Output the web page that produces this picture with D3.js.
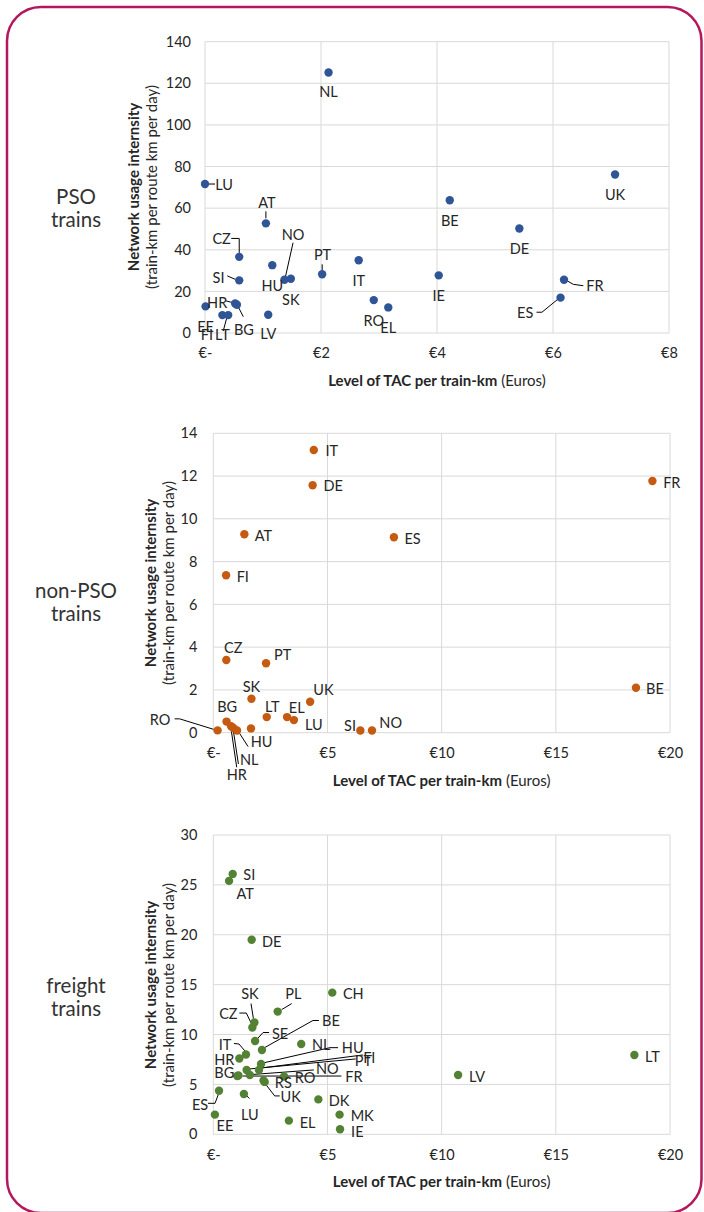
<!DOCTYPE html>
<html><head><meta charset="utf-8">
<script src="https://cdn.jsdelivr.net/npm/d3@7"></script>
<style>
html,body{margin:0;padding:0;background:#fff;}
svg{display:block;font-family:Lato,"Liberation Sans",sans-serif;}
</style></head>
<body><svg id="c" width="704" height="1212"></svg>
<script>
// ---------------- DATA ----------------
// PSO trains
const psoCountries = ["NL","LU","AT","CZ","HU","NO","SK","SI","PT","IT","RO","EL","EE","FI","LT","HR","BG","LV","BE","DE","UK","IE","FR","ES"];
const psoTAC       = [2.13,0.00,1.05,0.59,1.16,1.37,1.48,0.59,2.02,2.65,2.91,3.16,0.01,0.30,0.40,0.52,0.55,1.09,4.22,5.42,7.07,4.03,6.19,6.13];
const psoIntensity = [125.2,71.6,52.7,36.6,32.6,25.6,26.1,25.3,28.2,35.0,15.8,12.3,12.8,8.6,8.6,14.2,13.6,8.8,63.8,50.2,76.2,27.7,25.6,17.0];
const psoXTicks = [0,2,4,6,8];
const psoXTickLabels = ["€-","€2","€4","€6","€8"];
const psoYTicks = [0,20,40,60,80,100,120,140];

// non-PSO trains
const nonPsoCountries = ["IT","DE","AT","ES","FI","CZ","PT","SK","UK","LT","EL","LU","BG","RO","HR","NL","HU","","SI","NO","FR","BE"];
const nonPsoTAC       = [4.40,4.35,1.36,7.91,0.56,0.57,2.31,1.67,4.24,2.34,3.23,3.53,0.58,0.19,0.78,0.88,1.04,1.65,6.44,6.95,19.23,18.51];
const nonPsoIntensity = [13.22,11.57,9.28,9.14,7.36,3.40,3.25,1.59,1.45,0.73,0.73,0.59,0.52,0.11,0.30,0.22,0.10,0.20,0.10,0.10,11.77,2.10];
const nonPsoXTicks = [0,5,10,15,20];
const nonPsoXTickLabels = ["€-","€5","€10","€15","€20"];
const nonPsoYTicks = [0,2,4,6,8,10,12,14];

// freight trains
const freightCountries = ["SI","AT","DE","CH","PL","SK","CZ","SE","BE","NL","HU","FI","PT","NO","FR","BG","RO","RS","UK","IT","HR","ES","EE","LU","EL","DK","MK","IE","LV","LT"];
const freightTAC       = [0.85,0.69,1.68,5.21,2.82,1.80,1.71,1.83,2.13,3.85,2.09,2.00,1.46,1.60,1.10,1.05,3.10,2.20,2.25,1.43,1.14,0.25,0.07,1.34,3.31,4.60,5.53,5.55,10.72,18.44];
const freightIntensity = [26.1,25.4,19.5,14.2,12.3,11.2,10.7,9.35,8.45,9.05,7.05,6.45,6.45,5.95,5.90,5.85,5.80,5.40,5.25,8.0,7.6,4.37,1.97,4.04,1.37,3.5,1.97,0.5,5.94,7.95];
const freightXTicks = [0,5,10,15,20];
const freightXTickLabels = ["€-","€5","€10","€15","€20"];
const freightYTicks = [0,5,10,15,20,25,30];

// ---------------- LAYOUT (label placement, px relative to the point) ----------------
const psoLabelPos = {
  NL:{d:[0,19.5]}, LU:{d:[19,0],l:[[4,0],[10,0]]}, AT:{d:[1,-21],l:[[0,-5],[0,-12]]},
  CZ:{d:[-17.6,-18.4],l:[[-8,-18.4],[0,-18.4],[0,-4]]}, HU:{d:[0,20]},
  NO:{d:[8.6,-45.7],l:[[8.6,-37],[1,-3]]}, SK:{d:[0,20.6]},
  SI:{d:[-20.7,-3],l:[[-12,-4.5],[-4,-1]]}, PT:{d:[0.4,-20],l:[[0,-4],[0,-10]]},
  IT:{d:[0,20]}, RO:{d:[0,20]}, EL:{d:[0,20]}, EE:{d:[0,20]},
  FI:{d:[-15.4,19.5]}, LT:{d:[-5.8,19.5],l:[[-5,16],[-1.5,3]]},
  HR:{d:[-18,-1],l:[[-9,-2.5],[-3,-1]]}, BG:{d:[7,24.6],l:[[6.4,12],[1,1.5]]},
  LV:{d:[0,19]}, BE:{d:[0,20]}, DE:{d:[0,20]}, UK:{d:[0,20]}, IE:{d:[0,20]},
  FR:{d:[31,6],l:[[2,0.5],[9.3,4.6],[19.3,6]]},
  ES:{d:[-35.3,14.6],l:[[-24,14.6],[-18.6,14.6],[-2,1]]}
};
const nonPsoLabelPos = {
  IT:{d:[18,0.7]}, DE:{d:[20.6,0.7]}, AT:{d:[19,1.7]}, ES:{d:[18.7,1]}, FI:{d:[16.7,0.7]},
  CZ:{d:[7,-12.3]}, PT:{d:[16.7,-9]}, SK:{d:[0,-12]}, UK:{d:[13.3,-12.4]},
  LT:{d:[5.6,-11]}, EL:{d:[9.7,-9.7]}, LU:{d:[20,4.3]}, BG:{d:[0.6,-15]},
  RO:{d:[-57.6,-11],l:[[-43,-11.5],[-38,-11.5],[-4,-1]]},
  HR:{d:[5.6,48.7],l:[[5.6,41],[0,3]]},
  NL:{d:[15.9,32],l:[[5,36],[0,3]]},
  HU:{d:[24.6,11.3],l:[[11,16],[2,2]]},
  SI:{d:[-10.3,-4.7]}, NO:{d:[18.7,-8]}, FR:{d:[19.4,1.3]}, BE:{d:[19,1]}
};
const freightLabelPos = {
  SI:{d:[16.6,0.7]}, AT:{d:[16,13]}, DE:{d:[20,1.7]}, CH:{d:[21,1]},
  PL:{d:[15.6,-18.3],l:[[14,-8],[4,-2]]},
  SK:{d:[-4.4,-29.2],l:[[-3.4,-19],[-1,-4]]},
  CZ:{d:[-24,-14],l:[[-13,-14.5],[-6,-14.5],[-1,-4]]},
  SE:{d:[25,-7.7],l:[[14,-8.5],[8,-8.5],[2,-2]]},
  BE:{d:[69,-29.3],l:[[57,-29.5],[51,-29.5],[2,-2]]},
  NL:{d:[20,0]},
  HU:{d:[91.7,-16.3],l:[[77,-16.3],[69,-16.3],[2,-1]]},
  FI:{d:[110.3,-12.7],l:[[104,-15],[3,-2]]},
  PT:{d:[116.7,-9],l:[[109,-11],[3,-1]]},
  NO:{d:[77.5,-6],l:[[64,-5],[3,-0.5]]},
  FR:{d:[115.6,0.6],l:[[103,0.6],[4,0.6]]},
  BG:{d:[-13,-3.2]}, RO:{d:[21,1]}, RS:{d:[19.8,2]},
  UK:{d:[26,14.8],l:[[15,14],[10,14],[1.5,3]]},
  IT:{d:[-21,-10],l:[[-12,-11],[-7,-10.5],[-1,-3.5]]},
  HR:{d:[-15,1.5]},
  ES:{d:[-19,13.6],l:[[-11,12.6],[-4,12.6],[0,2]]},
  EE:{d:[10,11]}, LU:{d:[6,21],l:[[2,1],[5.5,4.5]]},
  EL:{d:[18.7,1.6]}, DK:{d:[20.7,1.4]}, MK:{d:[22.6,0.6]}, IE:{d:[17.3,2.4]},
  LV:{d:[19,1]}, LT:{d:[18,1.3]}
};

// ---------------- DRAWING ----------------
const svg = d3.select("#c");
const TEXT = "#262626";
const GRID = "#d9d9d9";

svg.append("rect").attr("x",7).attr("y",7).attr("width",694.5).attr("height",1206)
  .attr("rx",34).attr("ry",34).attr("fill","none").attr("stroke","#B5175F").attr("stroke-width",2.5);

function panel(o){
  const x = d3.scaleLinear().domain(o.xDomain).range([o.left,o.right]);
  const y = d3.scaleLinear().domain(o.yDomain).range([o.bottom,o.top]);
  const g = svg.append("g");

  // grid
  g.append("g").selectAll("line.h").data(o.yTicks).join("line")
    .attr("x1",o.left).attr("x2",o.right).attr("y1",d=>y(d)).attr("y2",d=>y(d))
    .attr("stroke",GRID).attr("stroke-width",1);
  g.append("g").selectAll("line.v").data(o.xTicks).join("line")
    .attr("y1",o.top).attr("y2",o.bottom).attr("x1",d=>x(d)).attr("x2",d=>x(d))
    .attr("stroke",GRID).attr("stroke-width",1);

  // axes (tick labels via d3 axes, domain/ticks hidden)
  const xa = g.append("g").attr("transform",`translate(0,${o.bottom})`)
    .call(d3.axisBottom(x).tickValues(o.xTicks).tickFormat((d,i)=>o.xTickLabels[i]).tickSize(0).tickPadding(15));
  const ya = g.append("g").attr("transform",`translate(${o.left},0)`)
    .call(d3.axisLeft(y).tickValues(o.yTicks).tickFormat(d3.format("d")).tickSize(0).tickPadding(o.yPad));
  [xa,ya].forEach(a=>{a.select(".domain").remove();
    a.selectAll("text").attr("fill",TEXT).style("font-size","14.5px").style("font-family","Lato,sans-serif");});

  // axis titles
  const cx = (o.left+o.right)/2;
  const xt = g.append("text").attr("x",cx).attr("y",o.bottom+47).attr("text-anchor","middle")
    .attr("dominant-baseline","central").attr("fill",TEXT).style("font-size","15px");
  xt.append("tspan").attr("font-weight","bold").text("Level of TAC per train-km");
  xt.append("tspan").text(" (Euros)");
  const cy = o.yTitleCenter;
  g.append("text").attr("transform",`translate(${o.yTitleX},${cy}) rotate(-90)`).attr("text-anchor","middle")
    .attr("dominant-baseline","central").attr("fill",TEXT).style("font-size","15px").attr("font-weight","bold")
    .text("Network usage internsity");
  g.append("text").attr("transform",`translate(${o.yTitleX+18},${cy}) rotate(-90)`).attr("text-anchor","middle")
    .attr("dominant-baseline","central").attr("fill",TEXT).style("font-size","15px")
    .text("(train-km per route km per day)");

  // side label
  const st = g.append("text").attr("x",76).attr("y",o.sideY).attr("text-anchor","middle")
    .attr("fill","#333").style("font-size","20.5px");
  o.side.forEach((s,i)=>st.append("tspan").attr("x",76).attr("dy",i?22.5:0).text(s));

  const pts = o.countries.map((c,i)=>({c, px:x(o.xs[i]), py:y(o.ys[i])}));
  // leader lines
  g.append("g").selectAll("polyline").data(pts.filter(p=>o.pos[p.c]&&o.pos[p.c].l)).join("polyline")
    .attr("points",p=>o.pos[p.c].l.map(q=>[p.px+q[0],p.py+q[1]].join(",")).join(" "))
    .attr("fill","none").attr("stroke","#000").attr("stroke-width",1);
  // points
  g.append("g").selectAll("circle").data(pts).join("circle")
    .attr("cx",p=>p.px).attr("cy",p=>p.py).attr("r",4.2).attr("fill",o.color);
  // data labels
  g.append("g").selectAll("text").data(pts.filter(p=>p.c&&o.pos[p.c])).join("text")
    .attr("x",p=>p.px+o.pos[p.c].d[0]).attr("y",p=>p.py+o.pos[p.c].d[1])
    .attr("text-anchor","middle").attr("dominant-baseline","central")
    .attr("fill",TEXT).style("font-size","14.5px").text(p=>p.c);
}

panel({countries:psoCountries, xs:psoTAC, ys:psoIntensity, color:"#2F5597",
  xDomain:[0,8], yDomain:[0,140], xTicks:psoXTicks, xTickLabels:psoXTickLabels, yTicks:psoYTicks,
  left:205, right:669, top:41.7, bottom:333, yPad:14, yTitleX:133, yTitleCenter:187,
  pos:psoLabelPos, side:["PSO","trains"], sideY:204});

panel({countries:nonPsoCountries, xs:nonPsoTAC, ys:nonPsoIntensity, color:"#C55A11",
  xDomain:[0,20], yDomain:[0,14], xTicks:nonPsoXTicks, xTickLabels:nonPsoXTickLabels, yTicks:nonPsoYTicks,
  left:213.3, right:670, top:433.3, bottom:732.7, yPad:16, yTitleX:150, yTitleCenter:583,
  pos:nonPsoLabelPos, side:["non-PSO","trains"], sideY:598});

panel({countries:freightCountries, xs:freightTAC, ys:freightIntensity, color:"#548235",
  xDomain:[0,20], yDomain:[0,30], xTicks:freightXTicks, xTickLabels:freightXTickLabels, yTicks:freightYTicks,
  left:213.3, right:670, top:835, bottom:1134.3, yPad:16, yTitleX:150, yTitleCenter:985,
  pos:freightLabelPos, side:["freight","trains"], sideY:993});
</script></body></html>
